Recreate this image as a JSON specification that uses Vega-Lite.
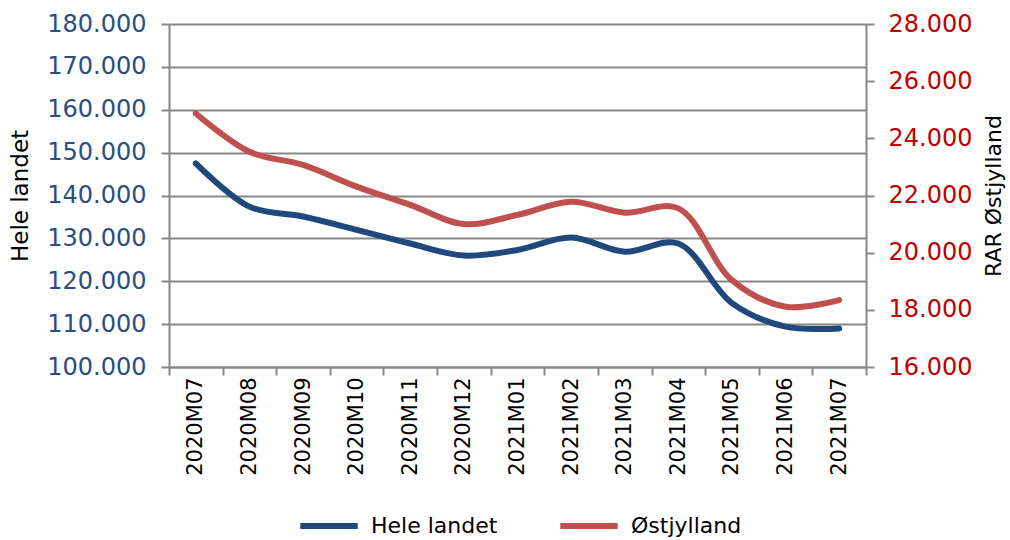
{
  "$schema": "https://vega.github.io/schema/vega-lite/v6.json",
  "width": 697,
  "height": 343,
  "autosize": {"type": "none"},
  "padding": {"left": 169, "top": 24, "right": 144, "bottom": 173},
  "background": "white",
  "config": {
    "font": "DejaVu Sans",
    "view": {"stroke": null},
    "axis": {"domainColor": "#878787", "tickColor": "#878787", "gridColor": "#878787", "domainWidth": 2, "tickWidth": 2, "gridWidth": 2}
  },
  "data": {
    "values": [
      {"month": "2020M07", "series": "Hele landet", "value": 147500},
      {"month": "2020M08", "series": "Hele landet", "value": 137400},
      {"month": "2020M09", "series": "Hele landet", "value": 135100},
      {"month": "2020M10", "series": "Hele landet", "value": 132000},
      {"month": "2020M11", "series": "Hele landet", "value": 128800},
      {"month": "2020M12", "series": "Hele landet", "value": 126000},
      {"month": "2021M01", "series": "Hele landet", "value": 127300},
      {"month": "2021M02", "series": "Hele landet", "value": 130200},
      {"month": "2021M03", "series": "Hele landet", "value": 126900},
      {"month": "2021M04", "series": "Hele landet", "value": 128800},
      {"month": "2021M05", "series": "Hele landet", "value": 114900},
      {"month": "2021M06", "series": "Hele landet", "value": 109400},
      {"month": "2021M07", "series": "Hele landet", "value": 109000},
      {"month": "2020M07", "series": "Østjylland", "value": 24870},
      {"month": "2020M08", "series": "Østjylland", "value": 23530},
      {"month": "2020M09", "series": "Østjylland", "value": 23070},
      {"month": "2020M10", "series": "Østjylland", "value": 22310},
      {"month": "2020M11", "series": "Østjylland", "value": 21670},
      {"month": "2020M12", "series": "Østjylland", "value": 21000},
      {"month": "2021M01", "series": "Østjylland", "value": 21320},
      {"month": "2021M02", "series": "Østjylland", "value": 21780},
      {"month": "2021M03", "series": "Østjylland", "value": 21400},
      {"month": "2021M04", "series": "Østjylland", "value": 21550},
      {"month": "2021M05", "series": "Østjylland", "value": 19040},
      {"month": "2021M06", "series": "Østjylland", "value": 18110},
      {"month": "2021M07", "series": "Østjylland", "value": 18340}
    ]
  },
  "encoding": {
    "x": {
      "field": "month", "type": "ordinal", "bandPosition": 0.5,
      "scale": {"type": "band", "paddingInner": 0, "paddingOuter": 0},
      "axis": {"title": null, "labelAngle": 270, "labelFontSize": 21, "labelColor": "#000000", "tickBand": "extent", "tickSize": 8, "labelPadding": 2, "grid": false}
    },
    "color": {
      "field": "series", "type": "nominal",
      "scale": {"domain": ["Hele landet", "Østjylland"], "range": ["#1F497D", "#C0504D"]},
      "legend": {"title": null, "orient": "none", "direction": "horizontal", "legendX": 128, "legendY": 470, "symbolType": "stroke", "symbolStrokeWidth": 6, "symbolSize": 3300, "labelFontSize": 22, "labelColor": "#000000", "labelOffset": 10, "columnPadding": 50, "labelBaseline": "middle"}
    }
  },
  "layer": [
    {
      "transform": [{"filter": "datum.series === 'Hele landet'"}],
      "mark": {"type": "line", "interpolate": "catmull-rom", "strokeWidth": 6, "strokeCap": "round"},
      "encoding": {
        "y": {
          "field": "value", "type": "quantitative",
          "scale": {"domain": [100000, 180000], "nice": false, "zero": false},
          "axis": {"title": "Hele landet", "titleFontSize": 23, "titleFontWeight": "normal", "titleColor": "#000000", "titlePadding": 14, "values": [100000, 110000, 120000, 130000, 140000, 150000, 160000, 170000, 180000], "labelExpr": "replace(format(datum.value, ','), ',', '.')", "labelFontSize": 24, "labelColor": "#2A4E7F", "tickSize": 8, "labelPadding": 15, "grid": true}
        }
      }
    },
    {
      "transform": [{"filter": "datum.series === 'Østjylland'"}],
      "mark": {"type": "line", "interpolate": "catmull-rom", "strokeWidth": 6, "strokeCap": "round"},
      "encoding": {
        "y": {
          "field": "value", "type": "quantitative",
          "scale": {"domain": [16000, 28000], "nice": false, "zero": false},
          "axis": {"orient": "right", "title": "RAR Østjylland", "titleFontSize": 22, "titleFontWeight": "normal", "titleColor": "#000000", "titleAngle": 270, "titleBaseline": "top", "titlePadding": 12, "values": [16000, 18000, 20000, 22000, 24000, 26000, 28000], "labelExpr": "replace(format(datum.value, ','), ',', '.')", "labelFontSize": 24, "labelColor": "#C00000", "tickSize": 8, "labelPadding": 14, "grid": false}
        }
      }
    }
  ],
  "resolve": {"scale": {"y": "independent"}}
}
